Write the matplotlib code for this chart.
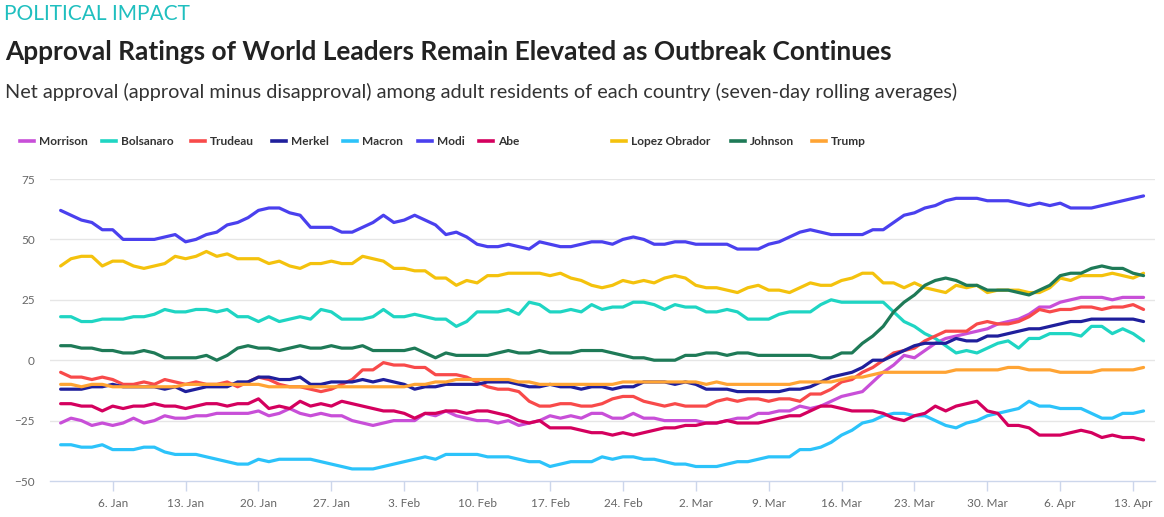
import datetime as dt
import matplotlib
matplotlib.use("Agg")
import matplotlib.pyplot as plt
import matplotlib.dates as mdates
from matplotlib.lines import Line2D

# ---------------- data ----------------
start_date = dt.date(2020, 1, 1)
n_days = 105
dates = [start_date + dt.timedelta(days=i) for i in range(n_days)]

series_names = ["Morrison", "Bolsanaro", "Trudeau", "Merkel", "Macron", "Modi",
                "Abe", "Lopez Obrador", "Johnson", "Trump"]

morrison = [-26, -24, -25, -27, -26, -27, -26, -24, -26, -25, -23, -24, -24, -23, -23, -22, -22, -22, -22, -21,
            -23, -22, -20, -22, -23, -22, -23, -23, -25, -26, -27, -26, -25, -25, -25, -22, -23, -21, -23, -24,
            -25, -25, -26, -25, -27, -26, -25, -23, -24, -23, -24, -22, -22, -24, -24, -22, -24, -24, -25, -25,
            -25, -25, -26, -26, -25, -24, -24, -22, -22, -21, -21, -19, -20, -19, -17, -15, -14, -13, -9, -5,
            -2, 2, 1, 4, 7, 9, 10, 11, 12, 13, 15, 16, 17, 19, 22, 22, 24, 25, 26, 26,
            26, 25, 26, 26, 26]
bolsonaro = [18, 18, 16, 16, 17, 17, 17, 18, 18, 19, 21, 20, 20, 21, 21, 20, 21, 18, 18, 16,
             18, 16, 17, 18, 17, 21, 20, 17, 17, 17, 18, 21, 18, 18, 19, 18, 17, 17, 14, 16,
             20, 20, 20, 21, 19, 24, 23, 20, 20, 21, 20, 23, 21, 22, 22, 24, 24, 23, 21, 23,
             22, 22, 20, 20, 21, 20, 17, 17, 17, 19, 20, 20, 20, 23, 25, 24, 24, 24, 24, 24,
             20, 16, 14, 11, 9, 6, 3, 4, 3, 5, 7, 8, 5, 9, 9, 11, 11, 11, 10, 14,
             14, 11, 13, 11, 8]
trudeau = [-5, -7, -7, -8, -7, -8, -10, -10, -9, -10, -8, -9, -10, -9, -10, -10, -9, -11, -9, -7,
           -8, -10, -11, -11, -12, -13, -12, -10, -8, -4, -4, -1, -2, -2, -3, -3, -6, -6, -6, -7,
           -9, -11, -12, -12, -13, -17, -19, -19, -18, -18, -19, -19, -18, -16, -15, -15, -17, -18, -19, -18,
           -19, -19, -19, -17, -16, -17, -16, -16, -17, -16, -16, -17, -14, -14, -12, -9, -8, -5, -3, 0,
           3, 4, 5, 8, 10, 12, 12, 12, 15, 16, 15, 15, 16, 18, 21, 20, 21, 21, 22, 22,
           21, 22, 22, 23, 21]
merkel = [-12, -12, -12, -11, -11, -10, -11, -11, -11, -11, -12, -11, -13, -12, -11, -11, -11, -9, -9, -7,
          -7, -8, -8, -7, -10, -10, -9, -9, -9, -8, -9, -8, -9, -10, -12, -11, -11, -10, -10, -10,
          -10, -9, -9, -9, -10, -11, -11, -10, -11, -11, -12, -11, -11, -12, -11, -11, -9, -9, -9, -10,
          -9, -10, -12, -12, -12, -13, -13, -13, -13, -13, -12, -12, -11, -9, -7, -6, -5, -3, 0, 0,
          2, 4, 6, 7, 7, 7, 9, 8, 8, 10, 10, 11, 12, 13, 13, 14, 15, 16, 16, 17,
          17, 17, 17, 17, 16]
macron = [-35, -35, -36, -36, -35, -37, -37, -37, -36, -36, -38, -39, -39, -39, -40, -41, -42, -43, -43, -41,
          -42, -41, -41, -41, -41, -42, -43, -44, -45, -45, -45, -44, -43, -42, -41, -40, -41, -39, -39, -39,
          -39, -40, -40, -40, -41, -42, -42, -44, -43, -42, -42, -42, -40, -41, -40, -40, -41, -41, -42, -43,
          -43, -44, -44, -44, -43, -42, -42, -41, -40, -40, -40, -37, -37, -36, -34, -31, -29, -26, -25, -23,
          -22, -22, -23, -23, -25, -27, -28, -26, -25, -23, -22, -21, -20, -17, -19, -19, -20, -20, -20, -22,
          -24, -24, -22, -22, -21]
modi = [62, 60, 58, 57, 54, 54, 50, 50, 50, 50, 51, 52, 49, 50, 52, 53, 56, 57, 59, 62,
        63, 63, 61, 60, 55, 55, 55, 53, 53, 55, 57, 60, 57, 58, 60, 58, 56, 52, 53, 51,
        48, 47, 47, 48, 47, 46, 49, 48, 47, 47, 48, 49, 49, 48, 50, 51, 50, 48, 48, 49,
        49, 48, 48, 48, 48, 46, 46, 46, 48, 49, 51, 53, 54, 53, 52, 52, 52, 52, 54, 54,
        57, 60, 61, 63, 64, 66, 67, 67, 67, 66, 66, 66, 65, 64, 65, 64, 65, 63, 63, 63,
        64, 65, 66, 67, 68]
abe = [-18, -18, -19, -19, -21, -19, -20, -19, -19, -18, -19, -19, -20, -19, -18, -18, -19, -18, -18, -16,
       -20, -19, -20, -17, -19, -18, -19, -17, -18, -19, -20, -21, -21, -22, -24, -22, -22, -21, -21, -22,
       -21, -21, -22, -23, -25, -26, -25, -28, -28, -28, -29, -30, -30, -31, -30, -31, -30, -29, -28, -28,
       -27, -27, -26, -26, -25, -26, -26, -26, -25, -24, -23, -23, -21, -19, -19, -20, -21, -21, -21, -22,
       -24, -25, -23, -22, -19, -21, -19, -18, -17, -21, -22, -27, -27, -28, -31, -31, -31, -30, -29, -30,
       -32, -31, -32, -32, -33]
lopez_obrador = [39, 42, 43, 43, 39, 41, 41, 39, 38, 39, 40, 43, 42, 43, 45, 43, 44, 42, 42, 42,
                 40, 41, 39, 38, 40, 40, 41, 40, 40, 43, 42, 41, 38, 38, 37, 37, 34, 34, 31, 33,
                 32, 35, 35, 36, 36, 36, 36, 35, 36, 34, 33, 31, 30, 31, 33, 32, 33, 32, 34, 35,
                 34, 31, 30, 30, 29, 28, 30, 31, 29, 29, 28, 30, 32, 31, 31, 33, 34, 36, 36, 32,
                 32, 30, 32, 30, 29, 28, 31, 30, 31, 28, 29, 29, 29, 28, 28, 30, 34, 33, 35, 35,
                 35, 36, 35, 34, 36]
johnson = [6, 6, 5, 5, 4, 4, 3, 3, 4, 3, 1, 1, 1, 1, 2, 0, 2, 5, 6, 5,
           5, 4, 5, 6, 5, 5, 6, 5, 5, 6, 4, 4, 4, 4, 5, 3, 1, 3, 2, 2,
           2, 2, 3, 4, 3, 3, 4, 3, 3, 3, 4, 4, 4, 3, 2, 1, 1, 0, 0, 0,
           2, 2, 3, 3, 2, 3, 3, 2, 2, 2, 2, 2, 2, 1, 1, 3, 3, 7, 10, 14,
           20, 24, 27, 31, 33, 34, 33, 31, 31, 29, 29, 29, 28, 27, 29, 31, 35, 36, 36, 38,
           39, 38, 38, 36, 35]
trump = [-10, -10, -11, -10, -10, -11, -11, -11, -11, -11, -11, -11, -10, -10, -10, -10, -10, -10, -10, -10,
         -11, -11, -11, -11, -11, -11, -11, -11, -11, -11, -11, -11, -11, -11, -10, -10, -9, -9, -8, -8,
         -8, -8, -8, -8, -9, -9, -10, -10, -10, -10, -10, -10, -10, -10, -9, -9, -9, -9, -9, -9,
         -9, -9, -10, -9, -10, -10, -10, -10, -10, -10, -10, -9, -9, -9, -9, -8, -7, -7, -6, -5,
         -5, -5, -5, -5, -5, -5, -4, -4, -4, -4, -4, -3, -3, -4, -4, -4, -5, -5, -5, -5,
         -4, -4, -4, -4, -3]

series_values = [morrison, bolsonaro, trudeau, merkel, macron, modi, abe, lopez_obrador, johnson, trump]
series_colors = ["#c84fd8", "#1fd5c3", "#f84a4a", "#1f1f9c", "#2cc3fa", "#4a40ee",
                 "#d4005e", "#f4c20d", "#1e7a57", "#ffa434"]

y_ticks = [-50, -25, 0, 25, 50, 75]
x_tick_dates = [dt.date(2020, 1, 6) + dt.timedelta(days=7 * k) for k in range(15)]

supertitle = "POLITICAL IMPACT"
title = "Approval Ratings of World Leaders Remain Elevated as Outbreak Continues"
subtitle = ("Net approval (approval minus disapproval) among adult residents of each country "
            "(seven-day rolling averages)")

# ---------------- figure ----------------
W, H = 1164, 517
fig = plt.figure(figsize=(W / 100, H / 100), dpi=100)
fig.patch.set_facecolor("white")

def fx(px):
    return px / W

def fy(py):
    return 1 - py / H

FONT = ["Lato", "DejaVu Sans"]

fig.text(fx(4), fy(14), supertitle, color="#1fbfbf", fontsize=15, family=FONT,
         fontweight="normal", va="center", ha="left")
fig.text(fx(5), fy(52), title, color="#222222", fontsize=18.9, family=FONT,
         fontweight="bold", va="center", ha="left")
fig.text(fx(5), fy(92), subtitle, color="#333333", fontsize=14.3, family=FONT,
         va="center", ha="left")

# axes
ax_left, ax_right, ax_top, ax_bottom = 50, 1155, 179, 481
ax = fig.add_axes([fx(ax_left), fy(ax_bottom), (ax_right - ax_left) / W, (ax_bottom - ax_top) / H])

for name, vals, col in zip(series_names, series_values, series_colors):
    ax.plot(dates, vals, color=col, lw=2.3, solid_joinstyle="round", solid_capstyle="round",
            label=name, zorder=3)

x0 = mdates.date2num(start_date)
ax.set_xlim(x0 - 1.02, x0 + 105.1)
ax.set_ylim(-50, 75)
ax.set_yticks(y_ticks)
ax.set_yticklabels([str(v) if v >= 0 else "\u2212" + str(-v) for v in y_ticks])
ax.set_xticks([mdates.date2num(d) for d in x_tick_dates])
ax.set_xticklabels([f"{d.day}. {d.strftime('%b')}" for d in x_tick_dates])

for y in y_ticks[1:]:
    ax.axhline(y, color="#e6e6e6", lw=1, zorder=1)

for s in ["top", "right", "left"]:
    ax.spines[s].set_visible(False)
ax.spines["bottom"].set_color("#ccd6eb")
ax.spines["bottom"].set_linewidth(1)
ax.tick_params(axis="y", length=0, pad=11, labelsize=8.5, labelcolor="#666666")
ax.tick_params(axis="x", length=7, width=1, color="#ccd6eb", pad=5, labelsize=8.5, labelcolor="#666666")
for lab in ax.get_xticklabels() + ax.get_yticklabels():
    lab.set_family(FONT)
ax.set_facecolor("none")

# legend (manual, single row)
legend_line_x = [20, 102, 191, 272, 343, 418, 479, 612, 731, 812]
legend_y = 141
for lx, name, col in zip(legend_line_x, series_names, series_colors):
    fig.add_artist(Line2D([fx(lx), fx(lx + 14)], [fy(legend_y), fy(legend_y)], color=col, lw=2.6,
                          transform=fig.transFigure))
    fig.text(fx(lx + 19), fy(legend_y + 0.5), name, color="#333333", fontsize=8.6, family=FONT,
             fontweight="bold", va="center", ha="left")

fig.savefig("out.png", dpi=100, facecolor="white")
